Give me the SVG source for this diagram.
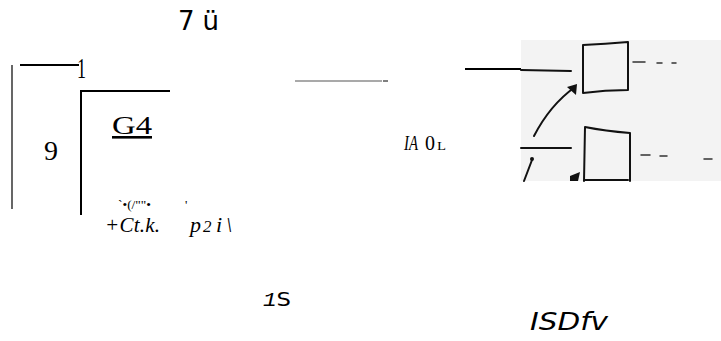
<svg xmlns="http://www.w3.org/2000/svg" width="721" height="341" viewBox="0 0 721 341">
<style>
.serif{font-family:"Liberation Serif","DejaVu Serif",serif;fill:#000}
.sans{font-family:"DejaVu Sans","Liberation Sans",sans-serif;fill:#000}
.ln{stroke:#000;fill:none}
.sk{stroke:#111;fill:none;stroke-width:2;stroke-linecap:round;stroke-linejoin:round}
.dash{stroke:#333;stroke-width:1.5;stroke-linecap:round}
</style>
<rect width="721" height="341" fill="#fff"/>
<g id="labels">
<text class="sans" x="178" y="30" font-size="26" textLength="41" lengthAdjust="spacing">7 ü</text>
<text class="serif" x="44" y="160" font-size="28">9</text>
<text class="serif" x="112" y="134" font-size="26" text-decoration="underline" textLength="40" lengthAdjust="spacingAndGlyphs">G4</text>
<text class="serif" x="118" y="209" font-size="13" textLength="33" lengthAdjust="spacingAndGlyphs">`•(/""•</text>
<text class="serif" x="185" y="209" font-size="13">'</text>
<text class="serif" x="105" y="232" font-size="21" font-style="italic" textLength="55" lengthAdjust="spacing">+Ct.k.</text>
<text class="serif" font-size="22" font-style="italic" y="232"><tspan x="190">p</tspan><tspan x="203" font-size="17">2</tspan><tspan x="216">i</tspan><tspan x="226">\</tspan></text>
<text class="serif" x="404" y="150" font-size="22" font-style="italic" textLength="14" lengthAdjust="spacingAndGlyphs">IA</text>
<text class="serif" x="425" y="150" font-size="22" textLength="10" lengthAdjust="spacingAndGlyphs">0</text>
<text class="serif" x="437" y="150" font-size="13" textLength="9" lengthAdjust="spacingAndGlyphs">L</text>
<text class="sans" x="263" y="306" font-size="20" textLength="28" lengthAdjust="spacingAndGlyphs"><tspan font-style="italic" font-family="Liberation Mono,monospace">1</tspan>S</text>
<text class="sans" x="530" y="330" font-size="25" font-style="italic" textLength="78" lengthAdjust="spacingAndGlyphs">ISDfv</text>
</g>
<g id="connectors">
<line class="ln" x1="12" y1="65" x2="12" y2="209" stroke-width="1.2"/>
<line class="ln" x1="20" y1="65" x2="79" y2="65" stroke-width="2"/>
<text class="serif" x="77" y="78" font-size="30" textLength="9" lengthAdjust="spacingAndGlyphs">1</text>
<polyline class="ln" points="81,215 81,91 170,91" stroke-width="2"/>
<line x1="295" y1="81" x2="382" y2="81" stroke="#555" stroke-width="1.2"/>
<line x1="383" y1="81" x2="388" y2="81" stroke="#000" stroke-width="1"/>
<line x1="465" y1="69" x2="521" y2="69" stroke="#000" stroke-width="2"/>
</g>
<g id="sketch">
<rect x="521" y="40" width="200" height="141" fill="#f3f3f3"/>
<line class="sk" x1="521" y1="70" x2="571" y2="71"/>
<path class="sk" d="M583,45 Q605,44 628,42 M583,45 L583,93 Q605,90 628,90 M628,42 L628,90"/>
<path class="sk" d="M534,136 Q550,105 575,87"/>
<path d="M567,87 L577,84 L576,95 Z" fill="#111"/>
<line class="dash" x1="633" y1="62" x2="645" y2="62"/>
<line class="dash" x1="657" y1="63" x2="662" y2="63"/>
<line class="dash" x1="672" y1="63" x2="676" y2="63"/>
<line class="sk" x1="521" y1="148" x2="571" y2="148"/>
<path class="sk" d="M585,127 Q605,131 630,133 M585,127 L584,181 M630,133 L630,181"/>
<line class="sk" x1="532" y1="160" x2="524" y2="181"/>
<circle cx="532" cy="159" r="2" fill="#111"/>
<path d="M570,176 L580,172 L578,181 L570,181 Z" fill="#111"/>
<line class="sk" x1="585" y1="180" x2="628" y2="180"/>
<line class="dash" x1="641" y1="155" x2="650" y2="155"/>
<line class="dash" x1="660" y1="156" x2="667" y2="156"/>
<line class="dash" x1="704" y1="159" x2="712" y2="159"/>
</g>
</svg>
